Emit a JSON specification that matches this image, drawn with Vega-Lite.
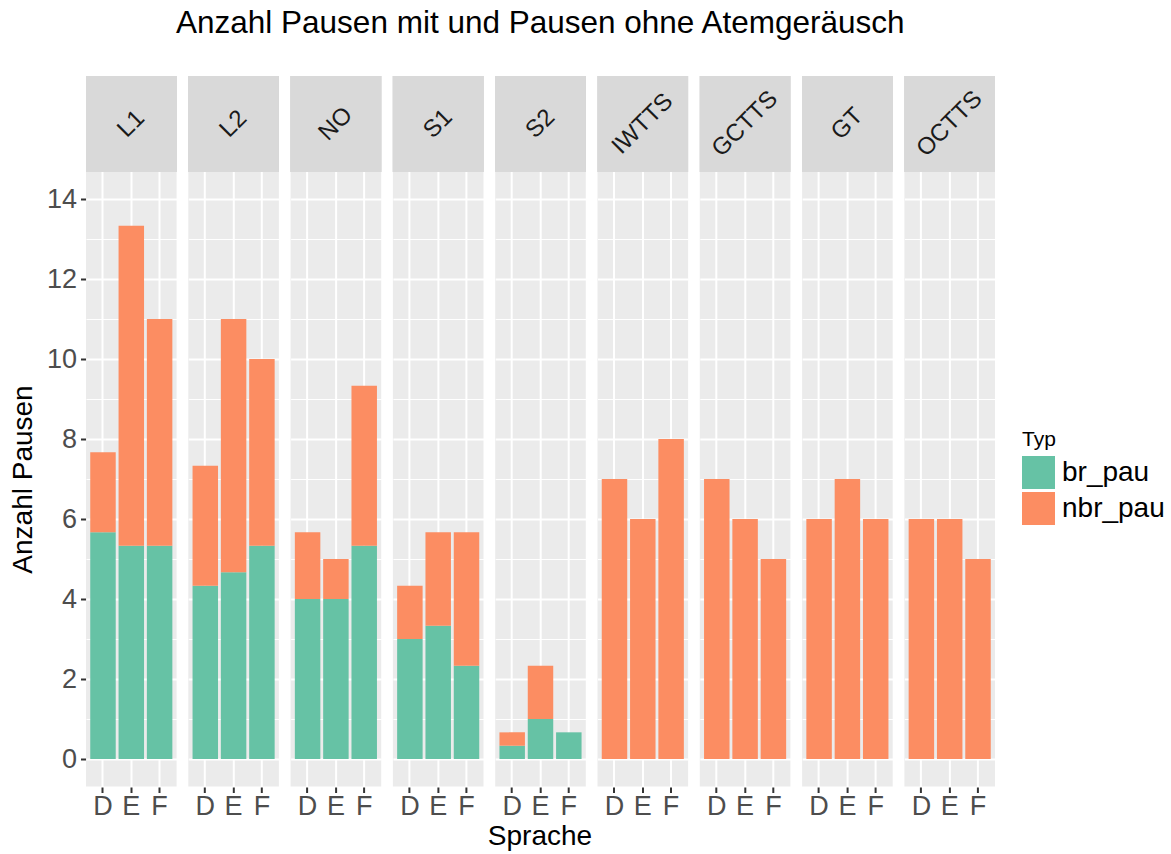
{
  "$schema": "https://vega.github.io/schema/vega-lite/v6.json",
  "background": "white",
  "padding": {"left": 9, "top": 7, "right": 5, "bottom": 5},
  "title": {"text": "Anzahl Pausen mit und Pausen ohne Atemgeräusch", "fontSize": 31.5, "font": "Liberation Sans", "fontWeight": "normal", "color": "black", "anchor": "start", "frame": "group", "dx": 90, "offset": 37},
  "data": {"values": [
    {"Gruppe": "L1", "Sprache": "D", "Typ": "br_pau", "Anzahl": 5.667},
    {"Gruppe": "L1", "Sprache": "D", "Typ": "nbr_pau", "Anzahl": 2.0},
    {"Gruppe": "L1", "Sprache": "E", "Typ": "br_pau", "Anzahl": 5.333},
    {"Gruppe": "L1", "Sprache": "E", "Typ": "nbr_pau", "Anzahl": 8.0},
    {"Gruppe": "L1", "Sprache": "F", "Typ": "br_pau", "Anzahl": 5.333},
    {"Gruppe": "L1", "Sprache": "F", "Typ": "nbr_pau", "Anzahl": 5.667},
    {"Gruppe": "L2", "Sprache": "D", "Typ": "br_pau", "Anzahl": 4.333},
    {"Gruppe": "L2", "Sprache": "D", "Typ": "nbr_pau", "Anzahl": 3.0},
    {"Gruppe": "L2", "Sprache": "E", "Typ": "br_pau", "Anzahl": 4.667},
    {"Gruppe": "L2", "Sprache": "E", "Typ": "nbr_pau", "Anzahl": 6.333},
    {"Gruppe": "L2", "Sprache": "F", "Typ": "br_pau", "Anzahl": 5.333},
    {"Gruppe": "L2", "Sprache": "F", "Typ": "nbr_pau", "Anzahl": 4.667},
    {"Gruppe": "NO", "Sprache": "D", "Typ": "br_pau", "Anzahl": 4.0},
    {"Gruppe": "NO", "Sprache": "D", "Typ": "nbr_pau", "Anzahl": 1.667},
    {"Gruppe": "NO", "Sprache": "E", "Typ": "br_pau", "Anzahl": 4.0},
    {"Gruppe": "NO", "Sprache": "E", "Typ": "nbr_pau", "Anzahl": 1.0},
    {"Gruppe": "NO", "Sprache": "F", "Typ": "br_pau", "Anzahl": 5.333},
    {"Gruppe": "NO", "Sprache": "F", "Typ": "nbr_pau", "Anzahl": 4.0},
    {"Gruppe": "S1", "Sprache": "D", "Typ": "br_pau", "Anzahl": 3.0},
    {"Gruppe": "S1", "Sprache": "D", "Typ": "nbr_pau", "Anzahl": 1.333},
    {"Gruppe": "S1", "Sprache": "E", "Typ": "br_pau", "Anzahl": 3.333},
    {"Gruppe": "S1", "Sprache": "E", "Typ": "nbr_pau", "Anzahl": 2.333},
    {"Gruppe": "S1", "Sprache": "F", "Typ": "br_pau", "Anzahl": 2.333},
    {"Gruppe": "S1", "Sprache": "F", "Typ": "nbr_pau", "Anzahl": 3.333},
    {"Gruppe": "S2", "Sprache": "D", "Typ": "br_pau", "Anzahl": 0.333},
    {"Gruppe": "S2", "Sprache": "D", "Typ": "nbr_pau", "Anzahl": 0.333},
    {"Gruppe": "S2", "Sprache": "E", "Typ": "br_pau", "Anzahl": 1.0},
    {"Gruppe": "S2", "Sprache": "E", "Typ": "nbr_pau", "Anzahl": 1.333},
    {"Gruppe": "S2", "Sprache": "F", "Typ": "br_pau", "Anzahl": 0.667},
    {"Gruppe": "IWTTS", "Sprache": "D", "Typ": "nbr_pau", "Anzahl": 7},
    {"Gruppe": "IWTTS", "Sprache": "E", "Typ": "nbr_pau", "Anzahl": 6},
    {"Gruppe": "IWTTS", "Sprache": "F", "Typ": "nbr_pau", "Anzahl": 8},
    {"Gruppe": "GCTTS", "Sprache": "D", "Typ": "nbr_pau", "Anzahl": 7},
    {"Gruppe": "GCTTS", "Sprache": "E", "Typ": "nbr_pau", "Anzahl": 6},
    {"Gruppe": "GCTTS", "Sprache": "F", "Typ": "nbr_pau", "Anzahl": 5},
    {"Gruppe": "GT", "Sprache": "D", "Typ": "nbr_pau", "Anzahl": 6},
    {"Gruppe": "GT", "Sprache": "E", "Typ": "nbr_pau", "Anzahl": 7},
    {"Gruppe": "GT", "Sprache": "F", "Typ": "nbr_pau", "Anzahl": 6},
    {"Gruppe": "OCTTS", "Sprache": "D", "Typ": "nbr_pau", "Anzahl": 6},
    {"Gruppe": "OCTTS", "Sprache": "E", "Typ": "nbr_pau", "Anzahl": 6},
    {"Gruppe": "OCTTS", "Sprache": "F", "Typ": "nbr_pau", "Anzahl": 5}
  ]},
  "facet": {
    "column": {
      "field": "Gruppe", "type": "nominal",
      "sort": ["L1", "L2", "NO", "S1", "S2", "IWTTS", "GCTTS", "GT", "OCTTS"],
      "header": {"labels": false, "title": "Sprache", "titleOrient": "bottom", "titleFontSize": 28, "titleFont": "Liberation Sans", "titleFontWeight": "normal", "titleColor": "black", "titlePadding": -7}
    }
  },
  "spacing": 11.3,
  "spec": {
    "width": 90.6,
    "height": 710.6,
    "layer": [
      {
        "mark": {"type": "bar"},
        "encoding": {
          "x": {"field": "Sprache", "type": "nominal",
            "scale": {"paddingInner": 0.1, "paddingOuter": 0.15},
            "axis": {"title": null, "bandPosition": 0.5, "grid": true, "gridColor": "white", "gridWidth": 2, "domain": false, "ticks": true, "tickColor": "#333333", "tickSize": 5.5, "tickWidth": 2, "labelFontSize": 27, "labelFont": "Liberation Sans", "labelColor": "#4D4D4D", "labelAngle": 0, "labelPadding": 1}},
          "y": {"field": "Anzahl", "type": "quantitative", "stack": "zero",
            "scale": {"domain": [-0.69, 17.075], "nice": false, "zero": false},
            "axis": {"title": "Anzahl Pausen", "values": [0, 1, 2, 3, 4, 5, 6, 7, 8, 9, 10, 11, 12, 13, 14],
              "labelExpr": "datum.value % 2 === 0 ? datum.label : ''",
              "grid": true, "gridColor": "white",
              "gridWidth": {"condition": {"test": "datum.value % 2 === 0", "value": 2}, "value": 1},
              "domain": false, "tickColor": "#333333", "tickSize": 5.5, "tickWidth": 2,
              "tickOpacity": {"condition": {"test": "datum.value % 2 === 0", "value": 1}, "value": 0},
              "labelFontSize": 27, "labelFont": "Liberation Sans", "labelColor": "#4D4D4D", "labelPadding": 4,
              "titleFontSize": 28, "titleFont": "Liberation Sans", "titleFontWeight": "normal", "titleColor": "black", "titlePadding": 9, "titleY": 403}},
          "color": {"field": "Typ", "type": "nominal",
            "scale": {"domain": ["br_pau", "nbr_pau"], "range": ["#66C2A5", "#FC8D62"]},
            "legend": {"title": "Typ", "orient": "none", "legendX": 936, "legendY": 353, "symbolType": "square", "symbolSize": 1089, "symbolStrokeWidth": 0, "titleFontSize": 21, "titleFont": "Liberation Sans", "titleFontWeight": "normal", "titleColor": "black", "labelFontSize": 28, "labelFont": "Liberation Sans", "labelColor": "black", "labelOffset": 7, "rowPadding": 3, "titlePadding": 6}},
          "order": {"field": "Typ", "sort": "ascending"}
        }
      },
      {
        "mark": {"type": "rect", "fill": "#D9D9D9"},
        "encoding": {
          "x": {"value": 0},
          "x2": {"value": "width"},
          "y": {"datum": 14.675, "type": "quantitative"},
          "y2": {"datum": 17.075}
        }
      },
      {
        "transform": [{"filter": "datum.Sprache == 'E' && datum.Typ == 'nbr_pau'"}],
        "mark": {"type": "text", "angle": -45, "align": "center", "baseline": "middle", "fontSize": 24, "font": "Liberation Sans", "color": "#1A1A1A"},
        "encoding": {
          "x": {"datum": "E", "type": "nominal", "bandPosition": 0.5},
          "y": {"datum": 15.875, "type": "quantitative"},
          "text": {"field": "Gruppe", "type": "nominal"}
        }
      }
    ]
  },
  "config": {
    "view": {"fill": "#EBEBEB", "stroke": null},
    "font": "Liberation Sans"
  }
}
